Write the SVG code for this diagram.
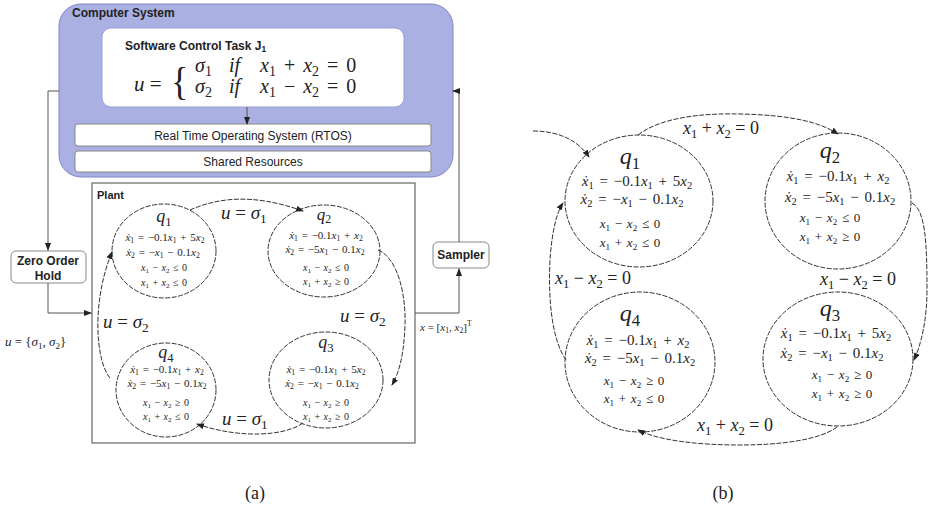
<svg xmlns="http://www.w3.org/2000/svg" width="930" height="512" viewBox="0 0 930 512">
<defs>
<marker id="ah" markerWidth="8" markerHeight="6" refX="7" refY="3" orient="auto" markerUnits="userSpaceOnUse"><path d="M0,0 L8,3 L0,6 Z" fill="#222"/></marker>
<style>
.sans{font-family:"Liberation Sans",Arial,sans-serif;fill:#222}
.b{font-weight:bold}
.m{font-family:"Liberation Serif","Times New Roman",serif;fill:#222}
.i{font-style:italic}
.s{font-size:70%;baseline-shift:-0.28em;font-style:normal}
.sup{font-size:70%;baseline-shift:0.6em}
.st{fill:none;stroke:#333;stroke-width:1;stroke-dasharray:5 1.5}
.tr{fill:none;stroke:#333;stroke-width:1;stroke-dasharray:5 1.5}
.ln{fill:none;stroke:#555;stroke-width:1}
.box{fill:#fff;stroke:#888;stroke-width:1}
.mid{text-anchor:middle}
.e1{font-size:11px;word-spacing:1px}
.e2{font-size:10px;word-spacing:1px}
.f1{font-size:15px;word-spacing:2px}
.f2{font-size:13px;word-spacing:1.5px}
</style>
</defs>

<g id="computer-system">
<rect x="59" y="4" width="394" height="173" rx="22" fill="#aab0e1" stroke="#7f86c6" stroke-width="1"/>
<text class="sans b" x="72" y="17" font-size="12">Computer System</text>
</g>
<g id="software-task">
<rect x="102" y="28" width="302" height="79" rx="9" fill="#fff" stroke="#9aa0d0"/>
<text class="sans b" x="125" y="50" font-size="12">Software Control Task J<tspan class="s">1</tspan></text>
<text class="m" x="134" y="91" font-size="21"><tspan class="i">u</tspan> =</text>
<text class="m" x="171" y="95" font-size="40" transform="translate(171 95) scale(0.9 1) translate(-171 -95)">{</text>
<text class="m" x="195" y="72" font-size="20" style="word-spacing:3px"><tspan class="i">σ</tspan><tspan class="s">1</tspan><tspan class="i" x="229">if</tspan><tspan x="260" class="i">x</tspan><tspan class="s">1</tspan> + <tspan class="i">x</tspan><tspan class="s">2</tspan> = 0</text>
<text class="m" x="195" y="93" font-size="20" style="word-spacing:3px"><tspan class="i">σ</tspan><tspan class="s">2</tspan><tspan class="i" x="229">if</tspan><tspan x="260" class="i">x</tspan><tspan class="s">1</tspan> − <tspan class="i">x</tspan><tspan class="s">2</tspan> = 0</text>
</g>
<g id="rtos">
<rect class="box" x="75" y="124" width="356" height="22" rx="3"/>
<text class="sans mid" x="253" y="140" font-size="12" fill="#333">Real Time Operating System (RTOS)</text>
</g>
<g id="shared-resources">
<rect class="box" x="75" y="151" width="356" height="21" rx="3"/>
<text class="sans mid" x="253" y="166" font-size="12" fill="#333">Shared Resources</text>
</g>
<g id="zoh">
<rect class="box" x="11" y="251" width="75" height="32" rx="5" stroke="#777"/>
<text class="sans b mid" x="48" y="265" font-size="12">Zero Order</text>
<text class="sans b mid" x="48" y="280" font-size="12">Hold</text>
</g>
<g id="sampler">
<rect class="box" x="433" y="242" width="56" height="26" rx="5" stroke="#777"/>
<text class="sans b mid" x="461" y="259" font-size="12">Sampler</text>
</g>
<g id="plant">
<rect x="92" y="183" width="323" height="260" fill="none" stroke="#666" stroke-width="1.2"/>
<text class="sans b" x="97" y="199" font-size="11">Plant</text>
</g>

<g id="a-q1">
<ellipse class="st" cx="164" cy="251" rx="52" ry="47"/>
<text class="m mid i" x="164" y="222" font-size="18">q<tspan class="s">1</tspan></text>
<text class="m mid e1" x="165" y="241"><tspan class="i">ẋ</tspan><tspan class="s">1</tspan> = −0.1<tspan class="i">x</tspan><tspan class="s">1</tspan> + 5<tspan class="i">x</tspan><tspan class="s">2</tspan></text>
<text class="m mid e1" x="163" y="256"><tspan class="i">ẋ</tspan><tspan class="s">2</tspan> = −<tspan class="i">x</tspan><tspan class="s">1</tspan> − 0.1<tspan class="i">x</tspan><tspan class="s">2</tspan></text>
<text class="m mid e2" x="164" y="271"><tspan class="i">x</tspan><tspan class="s">1</tspan> − <tspan class="i">x</tspan><tspan class="s">2</tspan> ≤ 0</text>
<text class="m mid e2" x="164" y="286"><tspan class="i">x</tspan><tspan class="s">1</tspan> + <tspan class="i">x</tspan><tspan class="s">2</tspan> ≤ 0</text>
</g>
<g id="a-q2">
<ellipse class="st" cx="324" cy="251" rx="56" ry="46"/>
<text class="m mid i" x="324" y="220" font-size="17">q<tspan class="s">2</tspan></text>
<text class="m mid e1" x="326" y="239"><tspan class="i">ẋ</tspan><tspan class="s">1</tspan> = −0.1<tspan class="i">x</tspan><tspan class="s">1</tspan> + <tspan class="i">x</tspan><tspan class="s">2</tspan></text>
<text class="m mid e1" x="325" y="253"><tspan class="i">ẋ</tspan><tspan class="s">2</tspan> = −5<tspan class="i">x</tspan><tspan class="s">1</tspan> − 0.1<tspan class="i">x</tspan><tspan class="s">2</tspan></text>
<text class="m mid e2" x="326" y="271"><tspan class="i">x</tspan><tspan class="s">1</tspan> − <tspan class="i">x</tspan><tspan class="s">2</tspan> ≤ 0</text>
<text class="m mid e2" x="326" y="285"><tspan class="i">x</tspan><tspan class="s">1</tspan> + <tspan class="i">x</tspan><tspan class="s">2</tspan> ≥ 0</text>
</g>
<g id="a-q3">
<ellipse class="st" cx="326" cy="380" rx="57" ry="48"/>
<text class="m mid i" x="326" y="348" font-size="18">q<tspan class="s">3</tspan></text>
<text class="m mid e1" x="326" y="373"><tspan class="i">ẋ</tspan><tspan class="s">1</tspan> = −0.1<tspan class="i">x</tspan><tspan class="s">1</tspan> + 5<tspan class="i">x</tspan><tspan class="s">2</tspan></text>
<text class="m mid e1" x="322" y="387"><tspan class="i">ẋ</tspan><tspan class="s">2</tspan> = −<tspan class="i">x</tspan><tspan class="s">1</tspan> − 0.1<tspan class="i">x</tspan><tspan class="s">2</tspan></text>
<text class="m mid e2" x="326" y="406"><tspan class="i">x</tspan><tspan class="s">1</tspan> − <tspan class="i">x</tspan><tspan class="s">2</tspan> ≥ 0</text>
<text class="m mid e2" x="326" y="420"><tspan class="i">x</tspan><tspan class="s">1</tspan> + <tspan class="i">x</tspan><tspan class="s">2</tspan> ≥ 0</text>
</g>
<g id="a-q4">
<ellipse class="st" cx="166" cy="390" rx="50" ry="47"/>
<text class="m mid i" x="166" y="358" font-size="18">q<tspan class="s">4</tspan></text>
<text class="m mid e1" x="167" y="373"><tspan class="i">ẋ</tspan><tspan class="s">1</tspan> = −0.1<tspan class="i">x</tspan><tspan class="s">1</tspan> + <tspan class="i">x</tspan><tspan class="s">2</tspan></text>
<text class="m mid e1" x="167" y="387"><tspan class="i">ẋ</tspan><tspan class="s">2</tspan> = −5<tspan class="i">x</tspan><tspan class="s">1</tspan> − 0.1<tspan class="i">x</tspan><tspan class="s">2</tspan></text>
<text class="m mid e2" x="166" y="406"><tspan class="i">x</tspan><tspan class="s">1</tspan> − <tspan class="i">x</tspan><tspan class="s">2</tspan> ≥ 0</text>
<text class="m mid e2" x="166" y="420"><tspan class="i">x</tspan><tspan class="s">1</tspan> + <tspan class="i">x</tspan><tspan class="s">2</tspan> ≤ 0</text>
</g>

<g id="b-q1">
<ellipse class="st" cx="639" cy="201" rx="74" ry="66"/>
<text class="m mid i" x="630" y="164" font-size="24">q<tspan class="s">1</tspan></text>
<text class="m mid f1" x="637" y="186"><tspan class="i">ẋ</tspan><tspan class="s">1</tspan> = −0.1<tspan class="i">x</tspan><tspan class="s">1</tspan> + 5<tspan class="i">x</tspan><tspan class="s">2</tspan></text>
<text class="m mid f1" x="632" y="204"><tspan class="i">ẋ</tspan><tspan class="s">2</tspan> = −<tspan class="i">x</tspan><tspan class="s">1</tspan> − 0.1<tspan class="i">x</tspan><tspan class="s">2</tspan></text>
<text class="m mid f2" x="630" y="228"><tspan class="i">x</tspan><tspan class="s">1</tspan> − <tspan class="i">x</tspan><tspan class="s">2</tspan> ≤ 0</text>
<text class="m mid f2" x="630" y="247"><tspan class="i">x</tspan><tspan class="s">1</tspan> + <tspan class="i">x</tspan><tspan class="s">2</tspan> ≤ 0</text>
</g>
<g id="b-q2">
<ellipse class="st" cx="838" cy="201" rx="73" ry="68"/>
<text class="m mid i" x="830" y="158" font-size="24">q<tspan class="s">2</tspan></text>
<text class="m mid f1" x="838" y="181"><tspan class="i">ẋ</tspan><tspan class="s">1</tspan> = −0.1<tspan class="i">x</tspan><tspan class="s">1</tspan> + <tspan class="i">x</tspan><tspan class="s">2</tspan></text>
<text class="m mid f1" x="840" y="202"><tspan class="i">ẋ</tspan><tspan class="s">2</tspan> = −5<tspan class="i">x</tspan><tspan class="s">1</tspan> − 0.1<tspan class="i">x</tspan><tspan class="s">2</tspan></text>
<text class="m mid f2" x="830" y="222"><tspan class="i">x</tspan><tspan class="s">1</tspan> − <tspan class="i">x</tspan><tspan class="s">2</tspan> ≤ 0</text>
<text class="m mid f2" x="830" y="241"><tspan class="i">x</tspan><tspan class="s">1</tspan> + <tspan class="i">x</tspan><tspan class="s">2</tspan> ≥ 0</text>
</g>
<g id="b-q3">
<ellipse class="st" cx="838" cy="359" rx="75" ry="67"/>
<text class="m mid i" x="830" y="316" font-size="24">q<tspan class="s">3</tspan></text>
<text class="m mid f1" x="836" y="338"><tspan class="i">ẋ</tspan><tspan class="s">1</tspan> = −0.1<tspan class="i">x</tspan><tspan class="s">1</tspan> + 5<tspan class="i">x</tspan><tspan class="s">2</tspan></text>
<text class="m mid f1" x="832" y="358"><tspan class="i">ẋ</tspan><tspan class="s">2</tspan> = −<tspan class="i">x</tspan><tspan class="s">1</tspan> − 0.1<tspan class="i">x</tspan><tspan class="s">2</tspan></text>
<text class="m mid f2" x="842" y="379"><tspan class="i">x</tspan><tspan class="s">1</tspan> − <tspan class="i">x</tspan><tspan class="s">2</tspan> ≥ 0</text>
<text class="m mid f2" x="842" y="398"><tspan class="i">x</tspan><tspan class="s">1</tspan> + <tspan class="i">x</tspan><tspan class="s">2</tspan> ≥ 0</text>
</g>
<g id="b-q4">
<ellipse class="st" cx="640" cy="362" rx="75" ry="70"/>
<text class="m mid i" x="630" y="321" font-size="24">q<tspan class="s">4</tspan></text>
<text class="m mid f1" x="638" y="345"><tspan class="i">ẋ</tspan><tspan class="s">1</tspan> = −0.1<tspan class="i">x</tspan><tspan class="s">1</tspan> + <tspan class="i">x</tspan><tspan class="s">2</tspan></text>
<text class="m mid f1" x="640" y="363"><tspan class="i">ẋ</tspan><tspan class="s">2</tspan> = −5<tspan class="i">x</tspan><tspan class="s">1</tspan> − 0.1<tspan class="i">x</tspan><tspan class="s">2</tspan></text>
<text class="m mid f2" x="634" y="385"><tspan class="i">x</tspan><tspan class="s">1</tspan> − <tspan class="i">x</tspan><tspan class="s">2</tspan> ≥ 0</text>
<text class="m mid f2" x="634" y="403"><tspan class="i">x</tspan><tspan class="s">1</tspan> + <tspan class="i">x</tspan><tspan class="s">2</tspan> ≤ 0</text>
</g>

<g id="connectors">
<path class="ln" d="M59,91 H48 V250" marker-end="url(#ah)"/>
<path class="ln" d="M48,283 V313 H91" marker-end="url(#ah)"/>
<path class="ln" d="M415,313 H459 V269" marker-end="url(#ah)"/>
<path class="ln" d="M459,242 V91 H453" marker-end="url(#ah)"/>
<path class="ln" d="M247,107 V124" marker-end="url(#ah)" stroke="#7f86c6"/>
<path class="tr" d="M190,210 C215,199 250,192 303,211" marker-end="url(#ah)"/>
<path class="tr" d="M378,250 C398,258 406,295 405,325 C404,355 399,373 392,385" marker-end="url(#ah)"/>
<path class="tr" d="M303,423 C285,436 240,439 197,424" marker-end="url(#ah)"/>
<path class="tr" d="M110,378 C95,360 92,300 112,252" marker-end="url(#ah)"/>
<path class="tr" d="M533,131 C558,131 578,140 589,157" marker-end="url(#ah)"/>
<path class="tr" d="M638,135 C660,118 700,113 740,114 C790,115 820,122 838,134" marker-end="url(#ah)"/>
<path class="tr" d="M912,203 C925,210 927,240 927,290 C927,320 921,345 914,360" marker-end="url(#ah)"/>
<path class="tr" d="M837,427 C820,440 780,445 740,445 C700,445 660,441 638,430" marker-end="url(#ah)"/>
<path class="tr" d="M566,360 C552,340 548,300 550,260 C552,230 557,212 563,203" marker-end="url(#ah)"/>
</g>

<g id="labels">
<text class="m" x="221" y="219" font-size="19"><tspan class="i">u</tspan> = <tspan class="i">σ</tspan><tspan class="s">1</tspan></text>
<text class="m" x="340" y="322" font-size="19"><tspan class="i">u</tspan> = <tspan class="i">σ</tspan><tspan class="s">2</tspan></text>
<text class="m" x="222" y="425" font-size="19"><tspan class="i">u</tspan> = <tspan class="i">σ</tspan><tspan class="s">1</tspan></text>
<text class="m" x="103" y="328" font-size="19"><tspan class="i">u</tspan> = <tspan class="i">σ</tspan><tspan class="s">2</tspan></text>
<text class="m" x="5" y="346" font-size="13"><tspan class="i">u</tspan> = {<tspan class="i">σ</tspan><tspan class="s">1</tspan>, <tspan class="i">σ</tspan><tspan class="s">2</tspan>}</text>
<text class="m" x="420" y="331" font-size="11"><tspan class="i">x</tspan> = [<tspan class="i">x</tspan><tspan class="s">1</tspan>, <tspan class="i">x</tspan><tspan class="s">2</tspan>]<tspan class="sup">T</tspan></text>
<text class="m" x="683" y="134" font-size="18"><tspan class="i">x</tspan><tspan class="s">1</tspan> + <tspan class="i">x</tspan><tspan class="s">2</tspan> = 0</text>
<text class="m" x="820" y="285" font-size="18"><tspan class="i">x</tspan><tspan class="s">1</tspan> − <tspan class="i">x</tspan><tspan class="s">2</tspan> = 0</text>
<text class="m" x="555" y="284" font-size="18"><tspan class="i">x</tspan><tspan class="s">1</tspan> − <tspan class="i">x</tspan><tspan class="s">2</tspan> = 0</text>
<text class="m" x="697" y="431" font-size="18"><tspan class="i">x</tspan><tspan class="s">1</tspan> + <tspan class="i">x</tspan><tspan class="s">2</tspan> = 0</text>
<text class="m mid" x="255" y="499" font-size="18">(a)</text>
<text class="m mid" x="723" y="499" font-size="18">(b)</text>
</g>
</svg>
